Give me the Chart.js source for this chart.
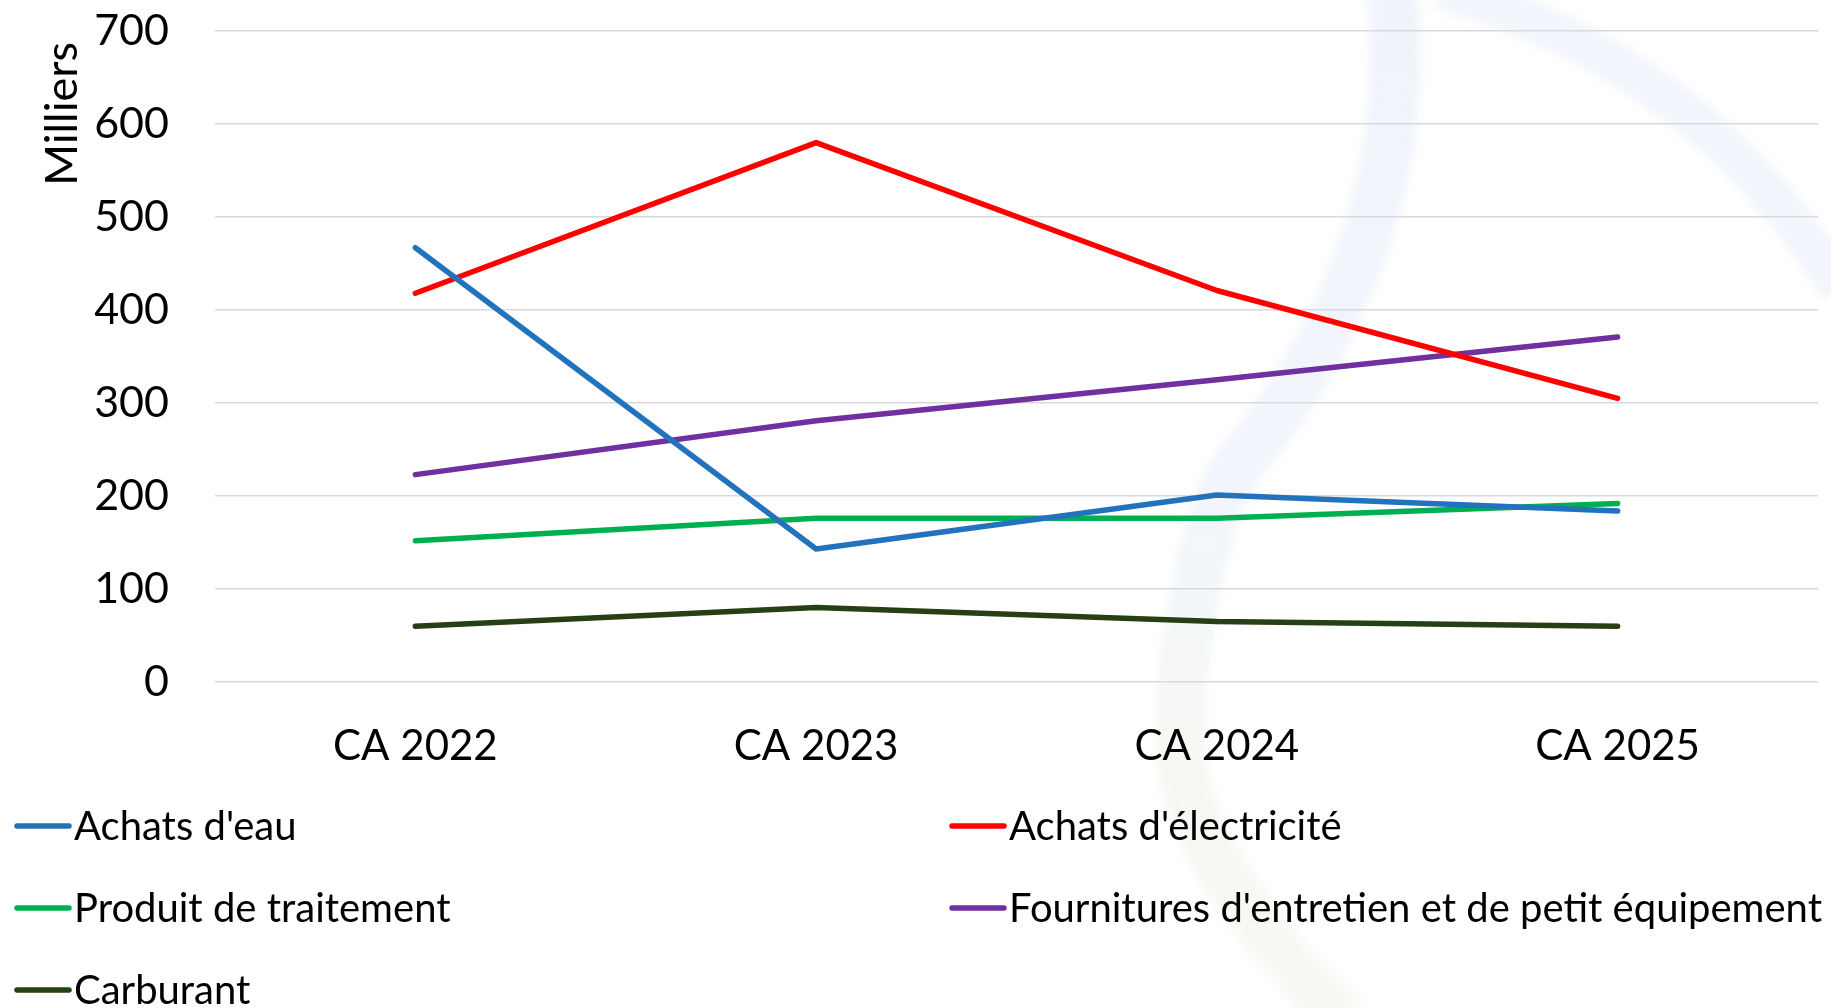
<!DOCTYPE html>
<html>
<head>
<meta charset="utf-8">
<script src="https://cdn.jsdelivr.net/npm/chart.js@4.4.1/dist/chart.umd.min.js"></script>
<style>
  html, body { margin: 0; padding: 0; background: #ffffff; }
  #wrap { position: relative; width: 1831px; height: 1008px; }
</style>
</head>
<body>
<div id="wrap"><canvas id="c"></canvas></div>
<script>
const categories = ["CA 2022", "CA 2023", "CA 2024", "CA 2025"];
const seriesNames = [
  "Achats d'eau",
  "Achats d'électricité",
  "Produit de traitement",
  "Fournitures d'entretien et de petit équipement",
  "Carburant"
];
const achatsEau = [467, 143, 201, 184];
const achatsElec = [418, 580, 421, 305];
const produitTraitement = [152, 176, 176, 192];
const fournitures = [223, 281, 325, 371];
const carburant = [60, 80, 65, 60];
const seriesColors = ["#2272BE", "#FF0000", "#00B050", "#7030A0", "#263F14"];
const yTitle = "Milliers";
const yMin = 0, yMax = 700, yStep = 100;

const FONT = "Lato, 'Open Sans', sans-serif";
const seriesValues = [achatsEau, achatsElec, produitTraitement, fournitures, carburant];

const watermark = {
  id: 'watermark',
  beforeDraw(chart) {
    const ctx = chart.ctx;
    ctx.save();
    ctx.filter = 'blur(5px)';
    const g = ctx.createLinearGradient(0, 0, 0, 1008);
    g.addColorStop(0, 'rgb(240,243,251)');
    g.addColorStop(0.5, 'rgb(242,245,251)');
    g.addColorStop(0.75, 'rgb(245,248,242)');
    g.addColorStop(1, 'rgb(247,250,244)');
    ctx.strokeStyle = g;
    ctx.lineCap = 'butt';
    ctx.lineWidth = 50;
    ctx.beginPath();
    ctx.moveTo(1392, -10);
    ctx.bezierCurveTo(1410, 150, 1360, 320, 1237, 467);
    ctx.bezierCurveTo(1210, 500, 1178, 640, 1181, 750);
    ctx.bezierCurveTo(1183, 820, 1240, 920, 1345, 1020);
    ctx.stroke();
    ctx.lineWidth = 40;
    ctx.strokeStyle = 'rgb(242,245,251)';
    ctx.beginPath();
    ctx.moveTo(1440, -10);
    ctx.quadraticCurveTo(1700, 60, 1840, 290);
    ctx.stroke();
    ctx.restore();
  }
};

const overlay = {
  id: 'overlay',
  afterDraw(chart) {
    const ctx = chart.ctx;
    ctx.save();
    // y-axis title
    ctx.save();
    ctx.font = "45px " + FONT;
    ctx.fillStyle = '#000000';
    ctx.translate(62, 42);
    ctx.rotate(-Math.PI / 2);
    ctx.textAlign = 'right';
    ctx.textBaseline = 'middle';
    ctx.fillText(yTitle, 0, 0);
    ctx.restore();
    // legend
    const colMarker = [17, 952];
    const colText = [74, 1009];
    const rowY = [826, 908, 990];
    ctx.font = "40px " + FONT;
    ctx.textBaseline = 'middle';
    ctx.textAlign = 'left';
    chart.data.datasets.forEach((ds, i) => {
      const col = i % 2, row = Math.floor(i / 2);
      const y = rowY[row];
      ctx.strokeStyle = ds.borderColor;
      ctx.lineWidth = 5.5;
      ctx.lineCap = 'round';
      ctx.beginPath();
      ctx.moveTo(colMarker[col], y);
      ctx.lineTo(colMarker[col] + 52, y);
      ctx.stroke();
      ctx.fillStyle = '#000000';
      ctx.fillText(ds.label, colText[col], y + 1);
    });
    ctx.restore();
  }
};

new Chart(document.getElementById('c'), {
  type: 'line',
  data: {
    labels: categories,
    datasets: seriesNames.map((name, i) => ({
      label: name,
      data: seriesValues[i],
      borderColor: seriesColors[i],
      backgroundColor: seriesColors[i],
      borderWidth: 5.5,
      borderCapStyle: 'round',
      borderJoinStyle: 'round',
      pointRadius: 0,
      pointHoverRadius: 0,
      tension: 0,
      fill: false
    }))
  },
  options: {
    responsive: true,
    maintainAspectRatio: false,
    animation: false,
    layout: { padding: { top: 31, right: 13, bottom: 206, left: 0 } },
    plugins: {
      legend: { display: false },
      tooltip: { enabled: false },
      title: { display: false }
    },
    scales: {
      x: {
        offset: true,
        grid: { display: false, drawTicks: false },
        border: { display: false },
        ticks: { color: '#000000', font: { family: FONT, size: 42 }, padding: 39, maxRotation: 0 },
        afterFit(scale) { scale.height = 120; }
      },
      y: {
        min: yMin, max: yMax,
        grid: { color: '#D9D9D9', lineWidth: 1.5, drawTicks: true, tickLength: 46, tickColor: 'rgba(0,0,0,0)' },
        border: { display: false },
        ticks: { stepSize: yStep, color: '#000000', font: { family: FONT, size: 43 }, padding: 0 },
        afterFit(scale) { scale.width = 215; }
      }
    }
  },
  plugins: [watermark, overlay]
});
</script>
</body>
</html>
